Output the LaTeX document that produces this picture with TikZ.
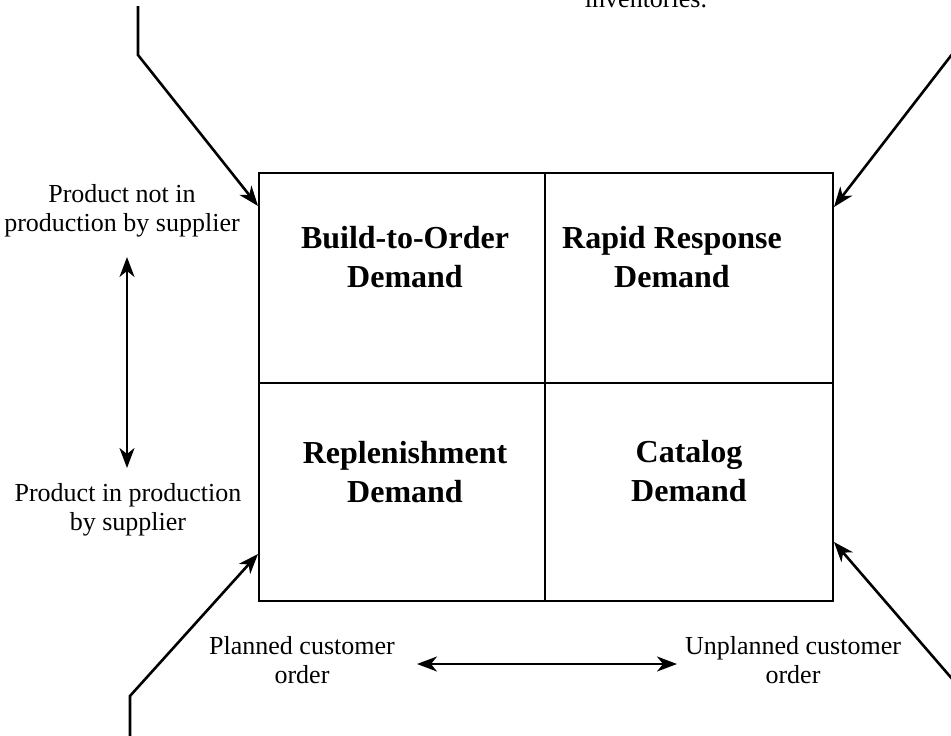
\documentclass[tikz,border=0pt]{standalone}
\usepackage{fontspec}
\setmainfont{Liberation Serif}
\usetikzlibrary{arrows.meta}
\tikzset{
  lbl/.style={align=center,inner sep=0pt,font=\fontsize{26}{29}\selectfont},
  quad/.style={align=center,inner sep=0pt,font=\fontsize{32}{39}\selectfont\bfseries},
  tip/.tip={Stealth[length=20pt,width=15pt,inset=6pt]},
  conn/.style={line width=2.6pt,-tip},
  dbl/.style={line width=2.2pt,tip-tip},
  frame/.style={line width=2.2pt}
}
\begin{document}
\begin{tikzpicture}[x=1pt,y=-1pt]
\useasboundingbox (0,0) rectangle (951,736);
% box
\node[frame,draw,minimum width=574pt,minimum height=428pt,inner sep=0pt] (box) at (546,387) {};
\coordinate (midT) at (545,173);
\coordinate (midB) at (545,601);
\coordinate (midL) at (259,383);
\coordinate (midR) at (833,383);
\draw[frame] (midT) -- (midB);
\draw[frame] (midL) -- (midR);
% quadrant labels
\node[quad] (bto) at (405,257) {Build-to-Order\\Demand};
\node[quad] (rrd) at (672,257) {Rapid Response\\Demand};
\node[quad] (rep) at (405,472) {Replenishment\\Demand};
\node[quad] (cat) at (689,471) {Catalog\\Demand};
% side labels
\node[lbl] (pnot) at (122,211) {Product not in\\production by supplier};
\node[lbl] (pin) at (128,510) {Product in production\\by supplier};
\node[lbl] (plan) at (302,660) {Planned customer\\order};
\node[lbl] (unplan) at (793,660) {Unplanned customer\\order};
\node[lbl,anchor=base] (inv) at (646,8) {inventories.};
% double arrows
\coordinate (vtop) at (127,257);
\coordinate (vbot) at (127,468);
\draw[dbl] (vtop) -- (vbot);
\coordinate (hl) at (417,664);
\coordinate (hr) at (677,664);
\draw[dbl] (hl) -- (hr);
% corner arrows
\coordinate (tl0) at (138,6);
\coordinate (tl1) at (138,55);
\coordinate (tlE) at (258,206);
\draw[conn] (tl0) -- (tl1) -- (tlE);
\coordinate (tr0) at (960,44);
\coordinate (trE) at (834,207);
\draw[conn] (tr0) -- (trE);
\coordinate (bl0) at (130,740);
\coordinate (bl1) at (130,696);
\coordinate (blE) at (258,554);
\draw[conn] (bl0) -- (bl1) -- (blE);
\coordinate (br0) at (960,688);
\coordinate (brE) at (834,542);
\draw[conn] (br0) -- (brE);
\end{tikzpicture}
\end{document}
